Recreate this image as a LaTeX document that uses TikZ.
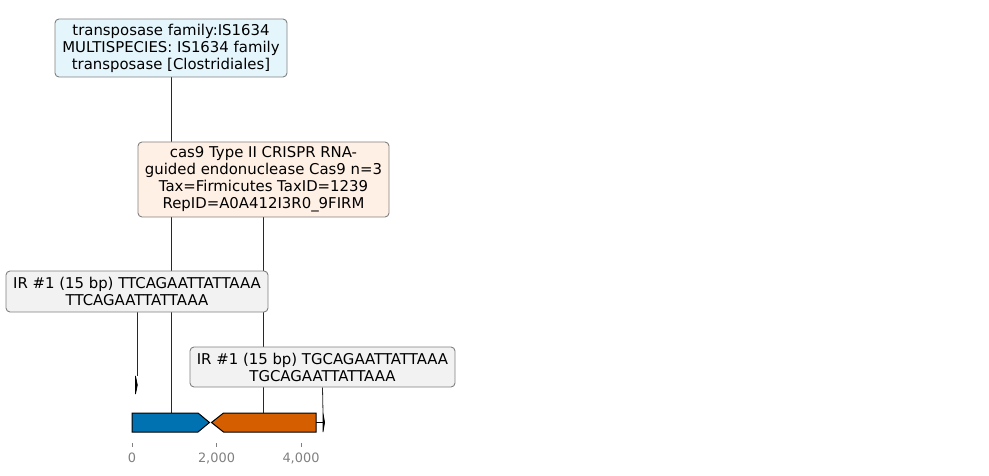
\documentclass[tikz,border=0pt]{standalone}
\usepackage{fontspec}
\setmainfont{DejaVu Sans}
\usetikzlibrary{backgrounds}
\definecolor{fblue}{RGB}{0,114,178}
\definecolor{forange}{RGB}{213,94,0}
\definecolor{tbfill}{RGB}{229,245,252}
\definecolor{casfill}{RGB}{255,240,229}
\definecolor{irfill}{RGB}{242,242,242}
\definecolor{boxedge}{RGB}{128,128,128}
\definecolor{linecol}{RGB}{40,40,40}
\definecolor{axcol}{RGB}{128,128,128}
\begin{document}
\begin{tikzpicture}[x=1pt,y=-1pt,
  lbl/.style={draw=boxedge, rounded corners=4pt, align=center, inner sep=0pt,
    font=\fontsize{14.9}{17}\selectfont, line width=0.9pt},
  conn/.style={draw=linecol, line width=0.8pt},
  feat/.style={draw=black, line width=1pt, line join=miter},
  tick/.style={draw=axcol, line width=0.8pt},
  ticklbl/.style={text=axcol, font=\fontsize{12.9}{15}\selectfont, inner sep=0pt}]
\useasboundingbox (0,0) rectangle (989,476);
% label boxes
\node[lbl, fill=tbfill, minimum width=232pt, minimum height=58pt] (tp) at (171,48)
  {transposase family:IS1634\\MULTISPECIES: IS1634 family\\transposase [Clostridiales]};
\node[lbl, fill=casfill, minimum width=251pt, minimum height=75pt] (cas) at (263.5,179.5)
  {cas9 Type II CRISPR RNA-\\guided endonuclease Cas9 n=3\\Tax=Firmicutes TaxID=1239\\RepID=A0A412I3R0\_9FIRM};
\node[lbl, fill=irfill, minimum width=262pt, minimum height=41pt] (irl) at (137,291.5)
  {IR \#1 (15 bp) TTCAGAATTATTAAA\\TTCAGAATTATTAAA};
\node[lbl, fill=irfill, minimum width=265pt, minimum height=40pt] (irr) at (322.5,367)
  {IR \#1 (15 bp) TGCAGAATTATTAAA\\TGCAGAATTATTAAA};
% feature anchor points
\coordinate (fb) at (171,413);
\coordinate (fo) at (263.5,413);
\coordinate (fl) at (137,376);
\coordinate (fr) at (323,413);
% connectors
\begin{scope}[on background layer]
\draw[conn] (tp.south) -- (fb);
\draw[conn] (cas.south) -- (fo);
\draw[conn] (irl.south) -- (fl);
\draw[conn] (irr.south) -- (fr);
\end{scope}
% features
\draw[feat, fill=fblue] (132,413) -- (198,413) -- (209.5,422.5) -- (198,432) -- (132,432) -- cycle;
\draw[feat, fill=forange] (316,413) -- (223.5,413) -- (211.5,422.5) -- (223.5,432) -- (316,432) -- cycle;
\draw[feat, fill=black, line width=0.7pt] (135.5,376) -- (137.3,385) -- (135.5,394) -- cycle;
\draw[feat] (316,422.5) -- (323,422.5);
\draw[feat, fill=black, line width=0.7pt] (323,413) -- (324.6,422.5) -- (323,432) -- cycle;
% axis
\draw[tick] (132,443) -- (132,447);
\draw[tick] (216.5,443) -- (216.5,447);
\draw[tick] (301,443) -- (301,447);
\node[ticklbl] (t0) at (132,458) {0};
\node[ticklbl] (t2) at (216.5,458) {2,000};
\node[ticklbl] (t4) at (301,458) {4,000};
\end{tikzpicture}
\end{document}
